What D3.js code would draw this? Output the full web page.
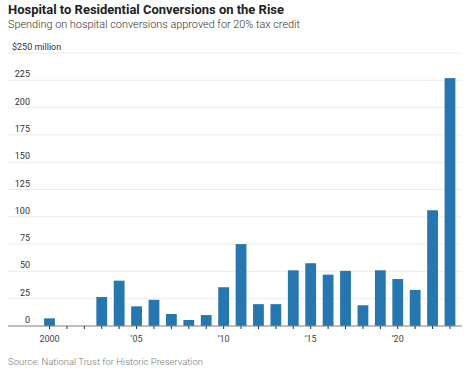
<!DOCTYPE html>
<html>
<head>
<meta charset="utf-8">
<script src="https://cdn.jsdelivr.net/npm/d3@7"></script>
<style>
  body { margin: 0; background: #fff; }
  svg { display: block; }
</style>
</head>
<body>
<div id="chart"></div>
<script>
// spending, $ millions, by year approved
const years = d3.range(2000, 2024);
const values = [7, null, null, 26.5, 41.5, 18, 24, 11, 5.5, 10, 35.5, 75, 20, 20,
  51, 57.5, 47, 50.5, 19, 51, 43, 33, 106, 227];
const yTicks = [0, 25, 50, 75, 100, 125, 150, 175, 200, 225, 250];
const xLabels = { 2000: "2000", 2005: "\u201905", 2010: "\u201910", 2015: "\u201915", 2020: "\u201920" };

const width = 468, height = 377;
const svg = d3.select("#chart").append("svg")
  .attr("width", width)
  .attr("height", height);

const font = "'Liberation Sans Narrow', 'Roboto', sans-serif";

// fit a text element to a target width (WSJ fonts are condensed)
function fit(sel, w) {
  sel.attr("textLength", w).attr("lengthAdjust", "spacingAndGlyphs");
}

svg.append("text")
  .attr("x", 8).attr("y", 13.5)
  .attr("font-family", "Roboto, sans-serif")
  .attr("font-weight", 700)
  .attr("font-size", 12.6)
  .attr("fill", "#222")
  .text("Hospital to Residential Conversions on the Rise")
  .call(fit, 276);

svg.append("text")
  .attr("x", 8).attr("y", 28.3)
  .attr("font-family", "Roboto, sans-serif")
  .attr("font-weight", 300)
  .attr("font-size", 10.5)
  .attr("fill", "#333")
  .text("Spending on hospital conversions approved for 20% tax credit")
  .call(fit, 292);

const x = d3.scaleBand()
  .domain(years)
  .range([37.5, 462])
  .paddingInner(0.38)
  .paddingOuter(0.38);

const y = d3.scaleLinear()
  .domain([0, 250])
  .range([326, 53]);

// gridlines
svg.append("g")
  .selectAll("line")
  .data(yTicks)
  .join("line")
  .attr("x1", 8).attr("x2", 462)
  .attr("y1", d => y(d)).attr("y2", d => y(d))
  .attr("stroke", "#ececec")
  .attr("stroke-width", 1);

// y labels
svg.append("g")
  .selectAll("text")
  .data(yTicks)
  .join("text")
  .attr("x", d => d === 250 ? 12 : 30)
  .attr("y", d => y(d) - 3)
  .attr("text-anchor", d => d === 250 ? "start" : "end")
  .attr("font-family", font)
  .attr("font-size", 9)
  .attr("fill", "#333")
  .text(d => d === 250 ? "$250 million" : d);

// bars
svg.append("g")
  .selectAll("rect")
  .data(years.map((yr, i) => ({ yr, v: values[i] })).filter(d => d.v != null))
  .join("rect")
  .attr("x", d => x(d.yr))
  .attr("width", x.bandwidth())
  .attr("y", d => y(d.v))
  .attr("height", d => y(0) - y(d.v))
  .attr("fill", "#2677b0");

// x axis
const xAxis = svg.append("g")
  .attr("transform", `translate(0,${y(0)})`);

xAxis.append("line")
  .attr("x1", 8).attr("x2", 462)
  .attr("stroke", "#888")
  .attr("stroke-width", 1.2);

xAxis.selectAll(".tick")
  .data(years)
  .join("line")
  .attr("class", "tick")
  .attr("x1", d => x(d) + x.bandwidth() / 2)
  .attr("x2", d => x(d) + x.bandwidth() / 2)
  .attr("y1", 0).attr("y2", 3)
  .attr("stroke", "#333");

xAxis.selectAll(".lbl")
  .data(years.filter(d => xLabels[d]))
  .join("text")
  .attr("class", "lbl")
  .attr("x", d => x(d) + x.bandwidth() / 2)
  .attr("y", 16)
  .attr("text-anchor", "middle")
  .attr("font-family", font)
  .attr("font-size", 9)
  .attr("fill", "#444")
  .text(d => xLabels[d]);

svg.append("text")
  .attr("x", 8).attr("y", 365)
  .attr("font-family", "Roboto, sans-serif")
  .attr("font-weight", 300)
  .attr("font-size", 9.5)
  .attr("fill", "#777")
  .text("Source: National Trust for Historic Preservation")
  .call(fit, 195);
</script>
</body>
</html>
